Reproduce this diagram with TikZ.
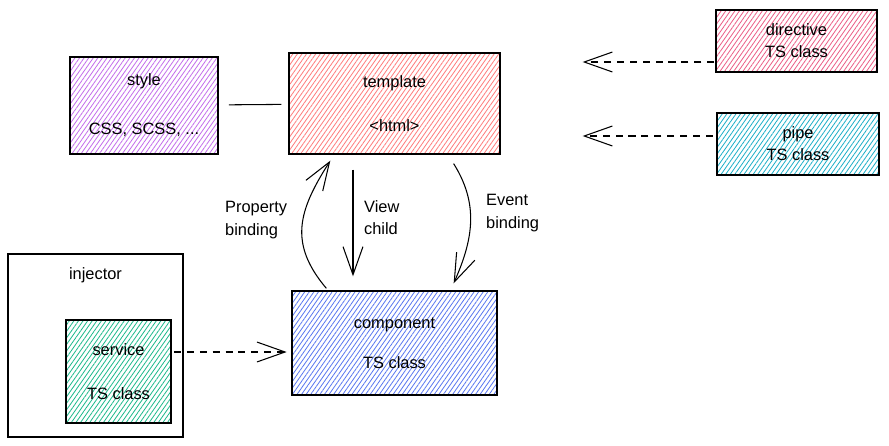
\documentclass[tikz,border=0pt]{standalone}
\usepackage{fontspec}
\setmainfont{Liberation Sans}
\usetikzlibrary{arrows.meta, positioning, calc, patterns.meta}
\definecolor{mypurple}{RGB}{195,110,235}
\definecolor{myred}{RGB}{255,125,125}
\definecolor{mypink}{RGB}{235,95,135}
\definecolor{mycyan}{RGB}{30,175,200}
\definecolor{mygreen}{RGB}{30,185,140}
\definecolor{myblue}{RGB}{90,120,240}
\tikzset{
    sketchbox/.style={draw, line width=1.1pt, inner sep=0pt, align=center, font=\fontsize{14}{19}\selectfont},
    hatch/.style={sketchbox, pattern={Lines[angle=55,distance=3.2pt,line width=0.7pt]}, pattern color=#1},
    lnk/.style={line width=0.9pt, -{Straight Barb[length=24pt,width=17pt]}},
    dlnk/.style={lnk, dash pattern=on 6pt off 5pt},
    lbl/.style={align=left, anchor=west, font=\fontsize{14}{19}\selectfont}
}

\begin{document}
\begin{tikzpicture}[x=0.03cm, y=-0.03cm]
    \useasboundingbox (0,0) rectangle (889,446);

    % Top row: style, template
    \node[hatch=mypurple, minimum width=4.44cm, minimum height=2.91cm] (style) at (144,105.5) {style\\[23pt]CSS, SCSS, ...};
    \node[hatch=myred, minimum width=6.33cm, minimum height=3.03cm] (template) at (394.5,103.5) {template\\[18pt]<html>};
    \draw[line width=0.9pt, shorten <=9pt, shorten >=6pt] (style) -- (template);

    % Directive and pipe
    \node[hatch=mypink, minimum width=4.83cm, minimum height=1.86cm] (directive) at (796.5,41) {directive\\TS class};
    \node[hatch=mycyan, minimum width=4.86cm, minimum height=1.86cm] (pipe) at (798,144) {pipe\\TS class};
    \draw[dlnk, shorten <=1pt, shorten >=70pt] (directive.west |- 0,62) -- (template.east |- 0,62);
    \draw[dlnk, shorten <=3pt, shorten >=70pt] (pipe.west |- 0,136) -- (template.east |- 0,136);

    % Injector with service
    \node[sketchbox, minimum width=5.25cm, minimum height=5.49cm] (injector) at (95.5,345.5) {};
    \node[font=\fontsize{14}{19}\selectfont] (injlabel) at ($(injector.north)+(0,22)$) {injector};
    \node[hatch=mygreen, minimum width=3.15cm, minimum height=3.09cm] (service) at (118.5,371.5) {service\\[18pt]TS class};

    % Component
    \node[hatch=myblue, minimum width=6.15cm, minimum height=3.12cm] (component) at (394.5,343) {component\\[15pt]TS class};
    \draw[dlnk, shorten <=2pt, shorten >=4pt] (service.east |- 0,352) -- (component.west |- 0,352);

    % Bindings between template and component
    \draw[lnk] ($(component.north west)+(35,-2)$) .. controls +(-38,-45) and +(-32,50) .. ($(template.south west)+(42,6)$);
    \draw[lnk] ($(template.south)+(-41.5,15)$) -- ($(component.north)+(-41.5,-14)$);
    \draw[lnk] ($(template.south east)+(-47,9)$) .. controls +(25,40) and +(20,-45) .. ($(component.north east)+(-44,-7)$);
    \node[lbl] (propbind) at (221,220) {Property\\binding};
    \node[lbl] (viewchild) at (360,218) {View\\child};
    \node[lbl] (eventbind) at (482,213) {Event\\binding};
\end{tikzpicture}
\end{document}
